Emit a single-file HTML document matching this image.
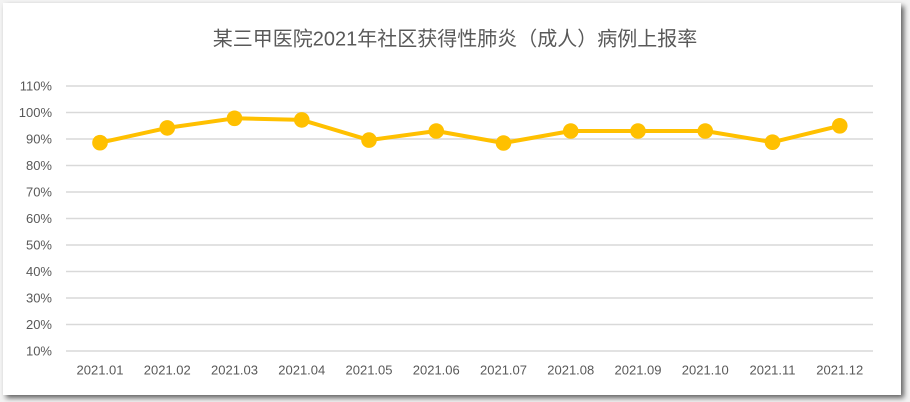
<!DOCTYPE html>
<html><head><meta charset="utf-8"><style>
html,body{margin:0;padding:0;}
body{width:910px;height:402px;background:#f3f3f3;position:relative;overflow:hidden;}
.card{position:absolute;left:3px;top:3px;width:898px;height:392px;background:#fff;box-shadow:3px 3px 5px rgba(0,0,0,0.6);}
svg{position:absolute;left:0;top:0;}
text{font-family:"Liberation Sans","Noto Sans CJK SC",sans-serif;fill:#595959;}
</style></head><body>
<div class="card"></div>
<svg width="910" height="402" viewBox="0 0 910 402">
<text x="455" y="45.5" font-size="20" text-anchor="middle">某三甲医院2021年社区获得性肺炎（成人）病例上报率</text>
<g stroke="#d9d9d9" stroke-width="1.5">
<line x1="66" x2="873" y1="86" y2="86"/>
<line x1="66" x2="873" y1="112.5" y2="112.5"/>
<line x1="66" x2="873" y1="139" y2="139"/>
<line x1="66" x2="873" y1="165.5" y2="165.5"/>
<line x1="66" x2="873" y1="192" y2="192"/>
<line x1="66" x2="873" y1="218.5" y2="218.5"/>
<line x1="66" x2="873" y1="245" y2="245"/>
<line x1="66" x2="873" y1="271.5" y2="271.5"/>
<line x1="66" x2="873" y1="298" y2="298"/>
<line x1="66" x2="873" y1="324.5" y2="324.5"/>
<line x1="66" x2="873" y1="351" y2="351"/>
</g>
<g font-size="13" text-anchor="end">
<text x="52" y="90.5">110%</text>
<text x="52" y="117">100%</text>
<text x="52" y="143.5">90%</text>
<text x="52" y="170">80%</text>
<text x="52" y="196.5">70%</text>
<text x="52" y="223">60%</text>
<text x="52" y="249.5">50%</text>
<text x="52" y="276">40%</text>
<text x="52" y="302.5">30%</text>
<text x="52" y="329">20%</text>
<text x="52" y="355.5">10%</text>
</g>
<g font-size="13" text-anchor="middle">
<text x="100" y="374.5">2021.01</text>
<text x="167.25" y="374.5">2021.02</text>
<text x="234.5" y="374.5">2021.03</text>
<text x="301.75" y="374.5">2021.04</text>
<text x="369" y="374.5">2021.05</text>
<text x="436.25" y="374.5">2021.06</text>
<text x="503.5" y="374.5">2021.07</text>
<text x="570.75" y="374.5">2021.08</text>
<text x="638" y="374.5">2021.09</text>
<text x="705.25" y="374.5">2021.10</text>
<text x="772.5" y="374.5">2021.11</text>
<text x="839.75" y="374.5">2021.12</text>
</g>
<polyline fill="none" stroke="#ffc000" stroke-width="4" stroke-linejoin="round"
points="100,142.7 167.25,127.9 234.5,118.3 301.75,119.9 369,140.1 436.25,131 503.5,143 570.75,131 638,131 705.25,131 772.5,142.2 839.75,125.8"/>
<g fill="#ffc000">
<circle cx="100" cy="142.7" r="7.8"/>
<circle cx="167.25" cy="127.9" r="7.8"/>
<circle cx="234.5" cy="118.3" r="7.8"/>
<circle cx="301.75" cy="119.9" r="7.8"/>
<circle cx="369" cy="140.1" r="7.8"/>
<circle cx="436.25" cy="131" r="7.8"/>
<circle cx="503.5" cy="143" r="7.8"/>
<circle cx="570.75" cy="131" r="7.8"/>
<circle cx="638" cy="131" r="7.8"/>
<circle cx="705.25" cy="131" r="7.8"/>
<circle cx="772.5" cy="142.2" r="7.8"/>
<circle cx="839.75" cy="125.8" r="7.8"/>
</g>
</svg>
</body></html>
